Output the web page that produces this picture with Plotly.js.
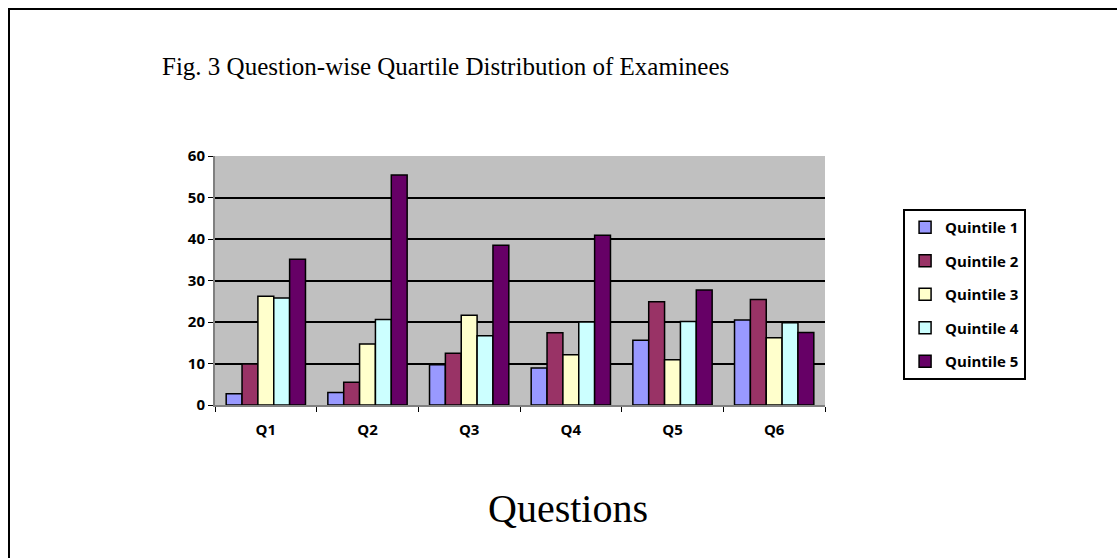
<!DOCTYPE html>
<html>
<head>
<meta charset="utf-8">
<script src="https://cdn.plot.ly/plotly-3.0.1.min.js"></script>
<style>
  html, body { margin: 0; padding: 0; background: #fff; }
  #wrap { position: relative; width: 1117px; height: 558px; overflow: hidden; }
  #chart { width: 1117px; height: 558px; }
  #frame { position: absolute; left: 8px; top: 8px; width: 1200px; height: 700px;
           border-left: 2px solid #000; border-top: 2px solid #000; pointer-events: none; }
</style>
</head>
<body>
<div id="wrap">
  <div id="chart"></div>
  <div id="frame"></div>
</div>
<script>
const categories = ["Q1", "Q2", "Q3", "Q4", "Q5", "Q6"];
const seriesNames = ["Quintile 1", "Quintile 2", "Quintile 3", "Quintile 4", "Quintile 5"];
const quintile1 = [2.7, 3.0, 9.7, 8.9, 15.6, 20.5];
const quintile2 = [9.9, 5.5, 12.5, 17.4, 24.9, 25.4];
const quintile3 = [26.2, 14.7, 21.6, 12.1, 10.9, 16.2];
const quintile4 = [25.8, 20.6, 16.7, 20.0, 20.1, 19.8];
const quintile5 = [35.1, 55.4, 38.5, 40.9, 27.7, 17.5];
const colors = ["#9999FF", "#993366", "#FFFFCC", "#CCFFFF", "#660066"];
const yTicks = [0, 10, 20, 30, 40, 50, 60];

const allSeries = [quintile1, quintile2, quintile3, quintile4, quintile5];
const traces = allSeries.map((vals, i) => ({
  type: "bar",
  name: seriesNames[i],
  legendgroup: "g" + i,
  x: categories,
  y: vals,
  marker: { color: colors[i], line: { color: "#000", width: 1.5 } },
  hoverinfo: "x+y+name"
}));

const boldFont = { family: "Open Sans, Liberation Sans, sans-serif", size: 15, color: "#000", weight: 700 };

const layout = {
  width: 1117,
  height: 558,
  margin: { l: 215, r: 292, t: 156, b: 153 },
  paper_bgcolor: "#ffffff",
  plot_bgcolor: "#c0c0c0",
  barmode: "group",
  bargap: 0.22,
  bargroupgap: 0,
  showlegend: true,
  legend: {
    x: 1.128, y: 0.787, xanchor: "left", yanchor: "top",
    bgcolor: "#ffffff", bordercolor: "#000", borderwidth: 2,
    font: boldFont, traceorder: "grouped", tracegroupgap: 11, itemwidth: 30
  },
  xaxis: {
    type: "category",
    showline: true, linecolor: "#808080", linewidth: 2,
    ticks: "outside", tickson: "boundaries", ticklen: 5, tickcolor: "#000",
    ticklabelstandoff: 10,
    tickfont: boldFont, showgrid: false, zeroline: false
  },
  yaxis: {
    range: [0, 60], tickvals: yTicks, ticktext: yTicks.map(String),
    showline: true, linecolor: "#808080", linewidth: 2,
    ticks: "outside", ticklen: 5, tickcolor: "#000",
    tickfont: boldFont, showgrid: true, gridcolor: "#000", gridwidth: 2,
    zeroline: false
  },
  annotations: [
    {
      text: "Fig. 3 Question-wise Quartile Distribution of Examinees",
      xref: "paper", yref: "paper", x: -0.0902, y: 1.36, xanchor: "left", yanchor: "middle",
      showarrow: false, font: { family: "Liberation Serif, Times New Roman, serif", size: 25, color: "#000" }
    },
    {
      text: "Questions",
      xref: "paper", yref: "paper", x: 0.579, y: -0.415, xanchor: "center", yanchor: "middle",
      showarrow: false, font: { family: "Liberation Serif, Times New Roman, serif", size: 40, color: "#000" }
    }
  ]
};

Plotly.newPlot("chart", traces, layout, { displayModeBar: false, staticPlot: true });
</script>
</body>
</html>
